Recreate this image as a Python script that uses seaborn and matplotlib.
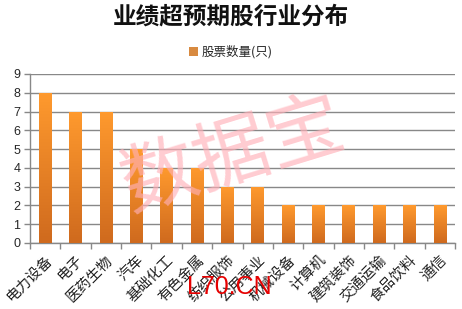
import numpy as np
import pandas as pd
import matplotlib
matplotlib.use("Agg")
import matplotlib.pyplot as plt
import seaborn as sns
from matplotlib.colors import LinearSegmentedColormap

categories = ["电力设备", "电子", "医药生物", "汽车", "基础化工", "有色金属", "纺织服饰",
              "公用事业", "机械设备", "计算机", "建筑装饰", "交通运输", "食品饮料", "通信"]
values = [8, 7, 7, 5, 4, 4, 3, 3, 2, 2, 2, 2, 2, 2]
series_name = "股票数量(只)"
title = "业绩超预期股行业分布"
yticks = list(range(0, 10))

sns.set_theme(style="white")
plt.rcParams['font.family'] = ['Noto Sans CJK SC', 'DejaVu Sans']

df = pd.DataFrame({"cat": categories, "val": values})

fig = plt.figure(figsize=(4.62, 3.09), dpi=100)
ax = fig.add_axes([0.065, 0.2136, 0.92, 0.547])

sns.barplot(data=df, x="cat", y="val", color="#F28A26", width=0.42, ax=ax,
            label=series_name, zorder=3, linewidth=0)

cmap = LinearSegmentedColormap.from_list("g", ["#CF6A1E", "#FF9A2E"])
grad = np.linspace(0, 1, 256).reshape(-1, 1)
for p in ax.patches:
    x0, y0 = p.get_x(), p.get_y()
    w, h = p.get_width(), p.get_height()
    im = ax.imshow(grad, cmap=cmap, origin="lower", aspect="auto",
                   extent=[x0, x0 + w, y0, y0 + h], zorder=4)
    im.set_clip_path(p)

ax.set_xlim(-0.5, len(categories) - 0.5)
ax.set_ylim(0, 9)
ax.set_yticks(yticks)
ax.set_yticklabels([str(t) for t in yticks], fontsize=9, family="Liberation Sans")
ax.grid(axis="y", color="#888888", linewidth=1.0, zorder=0)
for s in ["top", "right"]:
    ax.spines[s].set_visible(False)
for s in ["left", "bottom"]:
    ax.spines[s].set_color("#888888")
    ax.spines[s].set_linewidth(1.0)
ax.tick_params(axis="y", left=True, length=4, color="#888888", width=1, pad=3)
ax.set_xticks(range(len(categories)))
ax.set_xticklabels(categories, rotation=45, ha="right", rotation_mode="anchor",
                   fontsize=10.5, color="#222222")
ax.tick_params(axis="x", bottom=False, pad=1)
ax.set_xticks(np.arange(-0.5, len(categories), 1.0), minor=True)
ax.tick_params(axis="x", which="minor", bottom=True, length=4, color="#888888", width=1)
ax.set_xlabel("")
ax.set_ylabel("")

fig.text(0.5, 0.945, title, ha="center", va="center", fontsize=17, fontweight="bold",
         color="#111111", family=["Noto Sans CJK SC"])

leg = ax.legend(loc="center", bbox_to_anchor=(0.5, 0.832), bbox_transform=fig.transFigure,
                frameon=False, fontsize=9, handlelength=0.7, handleheight=0.7,
                handletextpad=0.3)

fig.text(0.505, 0.495, "数据宝", ha="center", va="center", fontsize=55, rotation=17,
         color="#FFB0B8", alpha=0.65, zorder=10, family=["Noto Sans CJK SC"])
fig.text(0.497, 0.07, "L70.CN", ha="center", va="center", fontsize=18,
         color="#E60000", family="Liberation Sans", zorder=10)

fig.savefig("out.png", dpi=100)
